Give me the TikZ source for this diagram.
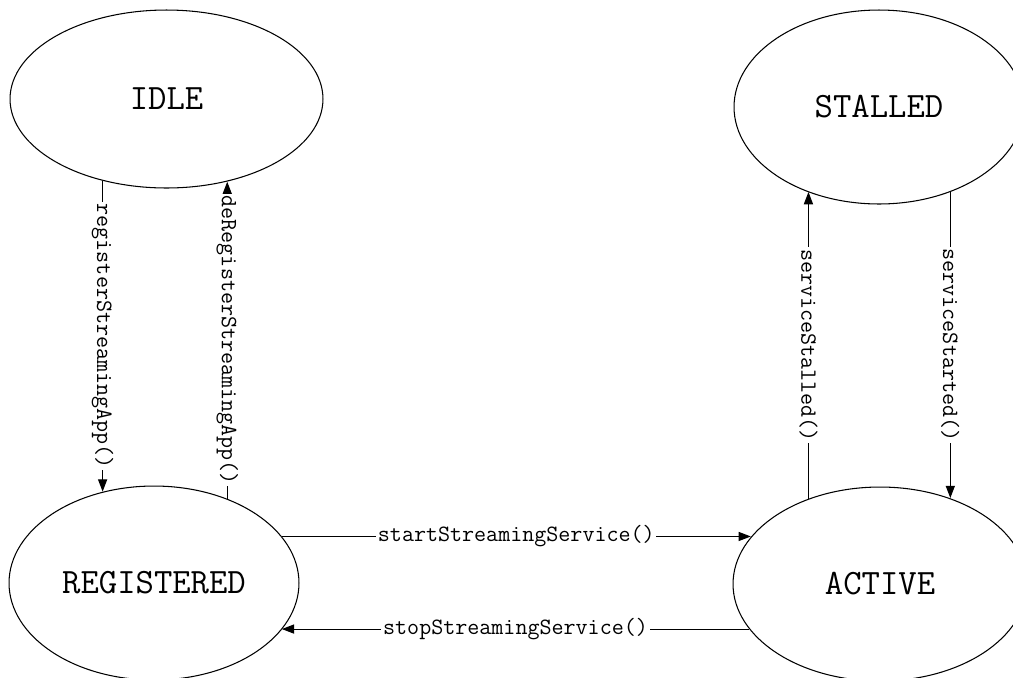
\documentclass[tikz,border=0pt]{standalone}
\usepackage{fontspec}
\usetikzlibrary{shapes.geometric,arrows.meta}
\begin{document}
\begin{tikzpicture}[
    x=0.02cm, y=-0.02cm,
    state/.style={ellipse, draw, line width=0.6pt, inner sep=0pt, font=\ttfamily\fontsize{20.3}{23}\selectfont},
    trans/.style={-{Triangle[length=7pt,width=5.2pt]}, line width=0.6pt},
    lbl/.style={fill=white, inner xsep=1pt, inner ysep=2pt, font=\ttfamily\fontsize{13.3}{15}\selectfont}
]
    \useasboundingbox (0,0) rectangle (1013,677);
    \clip (0,0) rectangle (1013,677);

    % States
    \node[state, minimum width=6.26cm, minimum height=3.56cm] (idle) at (166.5,99) {IDLE};
    \node[state, minimum width=5.8cm, minimum height=3.88cm] (stalled) at (879,107) {STALLED};
    \node[state, minimum width=5.8cm, minimum height=3.88cm] (registered) at (154,583) {REGISTERED};
    \node[state, minimum width=5.88cm, minimum height=3.88cm] (active) at (880,584) {ACTIVE};

    % Registration
    \draw[trans] (idle.232) -- (idle.232 |- registered.119) node[lbl, midway, rotate=-90] {registerStreamingApp()};
    \draw[trans] (registered.49) -- (registered.49 |- idle.306) node[lbl, midway, rotate=-90] {deRegisterStreamingApp()};

    % Streaming service
    \draw[trans] (registered.20) -- (active.160 |- registered.20) node[lbl, midway] {startStreamingService()};
    \draw[trans] (active.199) -- (registered.340 |- active.199) node[lbl, midway] {stopStreamingService()};

    % Stall handling
    \draw[trans] (active.130) -- (active.130 |- stalled.230) node[lbl, midway, rotate=-90] {serviceStalled()};
    \draw[trans] (stalled.310) -- (stalled.310 |- active.51) node[lbl, midway, rotate=-90] {serviceStarted()};
\end{tikzpicture}
\end{document}
